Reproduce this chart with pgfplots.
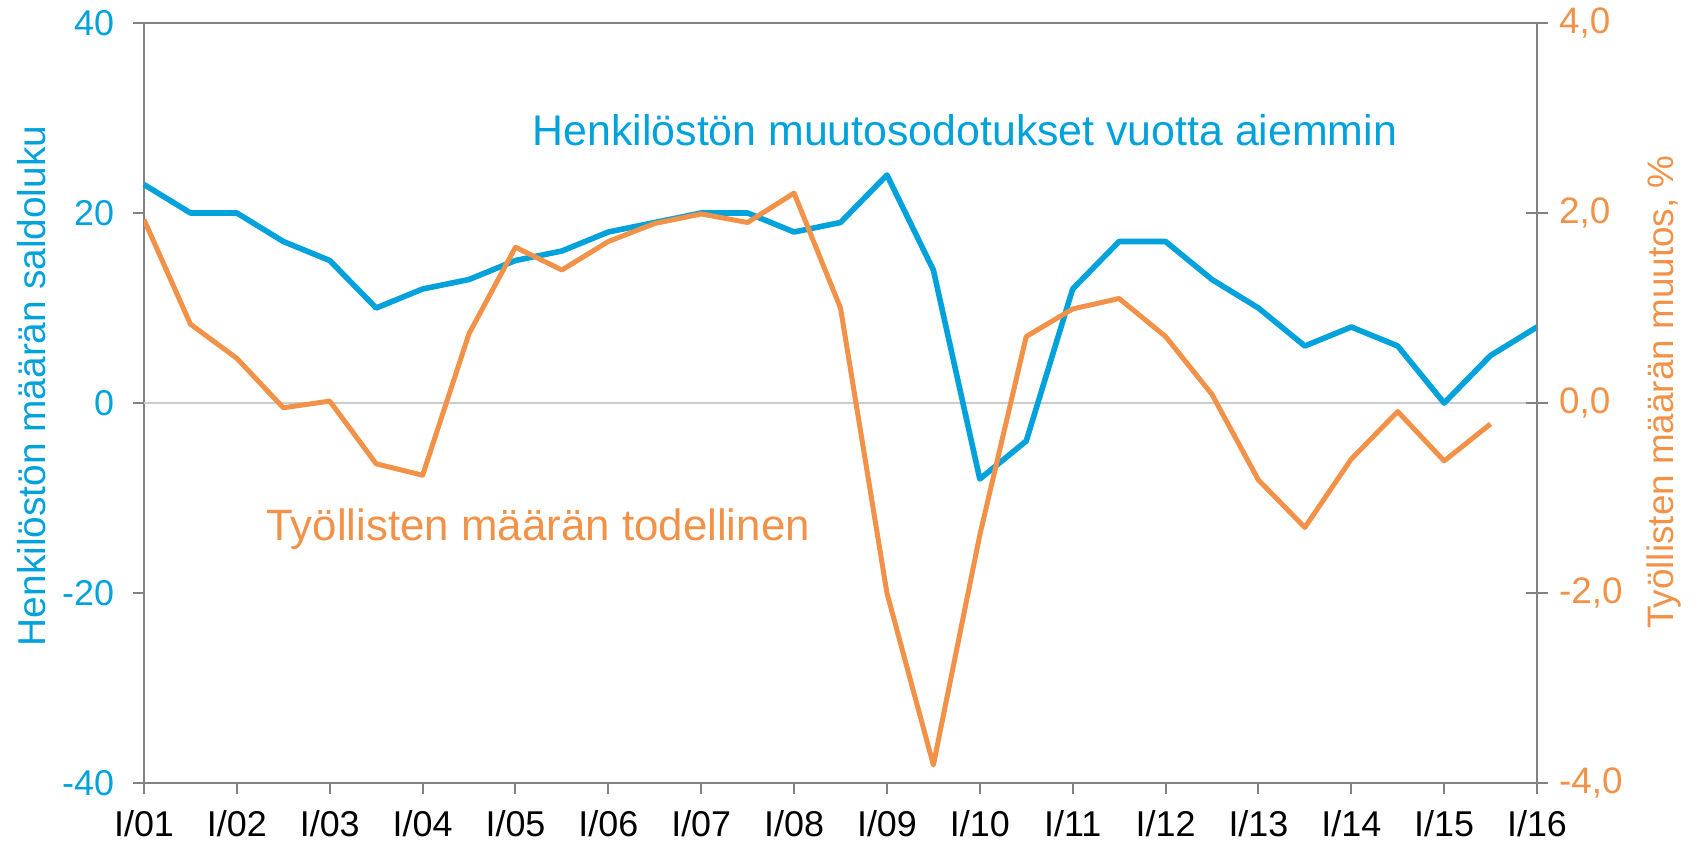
\documentclass[border=0pt]{standalone}
\usepackage{pgfplots}
\pgfplotsset{compat=1.18}
\usepackage{fontspec}
\setmainfont{Liberation Sans}
\definecolor{cblue}{RGB}{0,162,219}
\definecolor{corange}{RGB}{242,146,72}
\definecolor{axgray}{RGB}{130,130,130}
\begin{document}
\begin{tikzpicture}
\useasboundingbox (-72bp,-31.5bp) rectangle (775bp,391.5bp);
\begin{axis}[
  at={(0,0)}, anchor=south west,
  scale only axis, width=696.5bp, height=380bp,
  xmin=0, xmax=30, ymin=-40, ymax=40,
  axis line style={axgray, line width=1bp},
  xtick={0,2,...,30},
  xticklabels={I/01,I/02,I/03,I/04,I/05,I/06,I/07,I/08,I/09,I/10,I/11,I/12,I/13,I/14,I/15,I/16},
  ytick={-40,-20,0,20,40},
  yticklabels={-40,-20,0,20,40},
  tick align=outside, tick pos=left,
  major tick length=5.5bp,
  tick style={axgray, line width=1bp},
  xticklabel style={font=\fontsize{18}{20}\selectfont, black, yshift=-4.5bp},
  yticklabel style={font=\fontsize{18}{20}\selectfont, cblue, xshift=-6bp},
  extra y ticks={0}, extra y tick labels={},
  extra y tick style={grid=major, major grid style={gray!40, line width=0.6bp}, major tick length=0pt},
  clip=false,
]
\addplot[cblue, line width=2.8bp, line join=round] coordinates {
(0,23) (1,20) (2,20) (3,17) (4,15) (5,10) (6,12) (7,13) (8,15) (9,16)
(10,18) (11,19) (12,20) (13,20) (14,18) (15,19) (16,24) (17,14) (18,-8) (19,-4)
(20,12) (21,17) (22,17) (23,13) (24,10) (25,6) (26,8) (27,6) (28,0) (29,5) (30,8)
};
\node[cblue, font=\fontsize{21.5}{24}\selectfont] at (axis cs:17.68,28.7) {Henkilöstön muutosodotukset vuotta aiemmin};
\node[corange, font=\fontsize{22}{24}\selectfont] at (axis cs:8.49,-13.3) {Työllisten määrän todellinen};
\end{axis}
\begin{axis}[
  at={(0,0)}, anchor=south west,
  scale only axis, width=696.5bp, height=380bp,
  xmin=0, xmax=30, ymin=-4, ymax=4,
  axis x line=none, axis y line*=right,
  axis line style={axgray, line width=1bp},
  ytick={-4,-2,0,2,4},
  yticklabels={{-4,0},{-2,0},{0,0},{2,0},{4,0}},
  tick align=center,
  major tick length=11bp,
  tick style={axgray, line width=1bp},
  yticklabel style={font=\fontsize{18.5}{20}\selectfont, corange, xshift=2bp},
]
\addplot[corange, line width=2.5bp, line join=round] coordinates {
(0,1.93) (1,0.83) (2,0.47) (3,-0.05) (4,0.02) (5,-0.64) (6,-0.76) (7,0.73) (8,1.64) (9,1.40)
(10,1.70) (11,1.89) (12,1.99) (13,1.90) (14,2.21) (15,1.00) (16,-2.00) (17,-3.81) (18,-1.39) (19,0.70)
(20,0.99) (21,1.10) (22,0.70) (23,0.09) (24,-0.81) (25,-1.31) (26,-0.59) (27,-0.09) (28,-0.61) (29,-0.22)
};
\end{axis}
\node[rotate=90, cblue, font=\fontsize{19.5}{22}\selectfont] at (-56bp,198.5bp) {Henkilöstön määrän saldoluku};
\node[rotate=90, corange, font=\fontsize{18.5}{22}\selectfont] at (760bp,195.5bp) {Työllisten määrän muutos, \%};
\end{tikzpicture}
\end{document}
